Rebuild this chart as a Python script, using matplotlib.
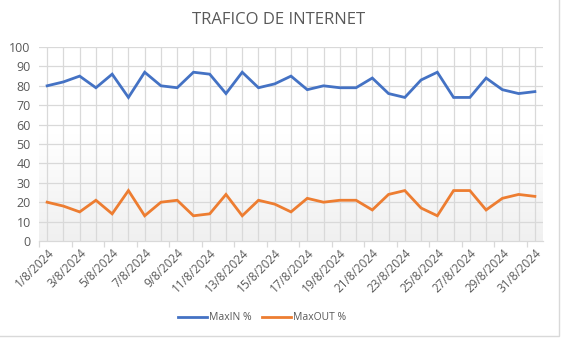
import matplotlib
matplotlib.use("Agg")
import matplotlib.pyplot as plt
import numpy as np
from matplotlib.lines import Line2D
from matplotlib.patches import Rectangle

dates = [f"{d}/8/2024" for d in range(1, 32)]
max_in = [80, 82, 85, 79, 86, 74, 87, 80, 79, 87, 86, 76, 87, 79, 81,
          85, 78, 80, 79, 79, 84, 76, 74, 83, 87, 74, 74, 84, 78, 76, 77]
max_out = [20, 18, 15, 21, 14, 26, 13, 20, 21, 13, 14, 24, 13, 21, 19,
           15, 22, 20, 21, 21, 16, 24, 26, 17, 13, 26, 26, 16, 22, 24, 23]
series_names = ["MaxIN %", "MaxOUT %"]
title = "TRAFICO DE INTERNET"

plt.rcParams['font.family'] = ['Open Sans', 'DejaVu Sans']
txt = '#595959'
grid = '#d9d9d9'

W, H = 561, 338
fig = plt.figure(figsize=(W/100, H/100), dpi=100)
ax = fig.add_axes([39/W, 1-241/H, (543-39)/W, (241-47)/H])

n = len(dates)
x = np.arange(n)
ax.set_xlim(-0.5, n-0.5)

# gradient background
grad = np.linspace(0, 1, 256).reshape(-1, 1)
cmap = matplotlib.colors.LinearSegmentedColormap.from_list('g', [(0, '#ffffff'), (0.45, '#ffffff'), (1, '#f0f0f0')])
ax.imshow(grad, extent=(-0.5, n-0.5, 100, 0), aspect='auto', cmap=cmap.reversed(), zorder=0)
ax.set_ylim(0, 100)

for v in range(10, 101, 10):
    ax.axhline(v, color=grid, lw=0.9, zorder=1)
for xi in x:
    ax.axvline(xi, color=grid, lw=0.9, zorder=1)

ax.plot(x, max_in, color='#4472c4', lw=2.0, zorder=3, solid_joinstyle='miter')
ax.plot(x, max_out, color='#ed7d31', lw=2.0, zorder=3, solid_joinstyle='miter')

for s in ['top', 'right', 'left']:
    ax.spines[s].set_visible(False)
ax.spines['bottom'].set_color(grid)
ax.spines['bottom'].set_linewidth(0.9)

ax.set_yticks(range(0, 101, 10))
ax.tick_params(axis='y', length=0, labelsize=9, labelcolor=txt, pad=6)

ax.set_xticks(np.arange(-0.5, n, 2), minor=False)
ax.set_xticklabels([])
ax.tick_params(axis='x', which='major', length=4, color=grid, width=0.9)
ax.set_xticks(x[::2], minor=True)
ax.set_xticklabels(dates[::2], minor=True, rotation=45, ha='right', rotation_mode='anchor',
                   fontsize=8.5, color=txt)
ax.tick_params(axis='x', which='minor', length=0, pad=4)

fig.text(279/W, 1-20/H, title, ha='center', va='center', fontsize=12, color=txt)

handles = [Line2D([], [], color='#4472c4', lw=2), Line2D([], [], color='#ed7d31', lw=2)]
fig.legend(handles, series_names, loc='center', bbox_to_anchor=(262/W, 1-318/H), ncol=2,
           frameon=False, fontsize=7.5, labelcolor=txt, handlelength=2.8, columnspacing=1.0,
           handletextpad=0.2)

fig.patches.append(Rectangle((-5/W, 2/H), (559+5)/W, 1.2, transform=fig.transFigure,
                             fill=False, edgecolor='#d9d9d9', lw=1))

fig.savefig('out.png', dpi=100)
